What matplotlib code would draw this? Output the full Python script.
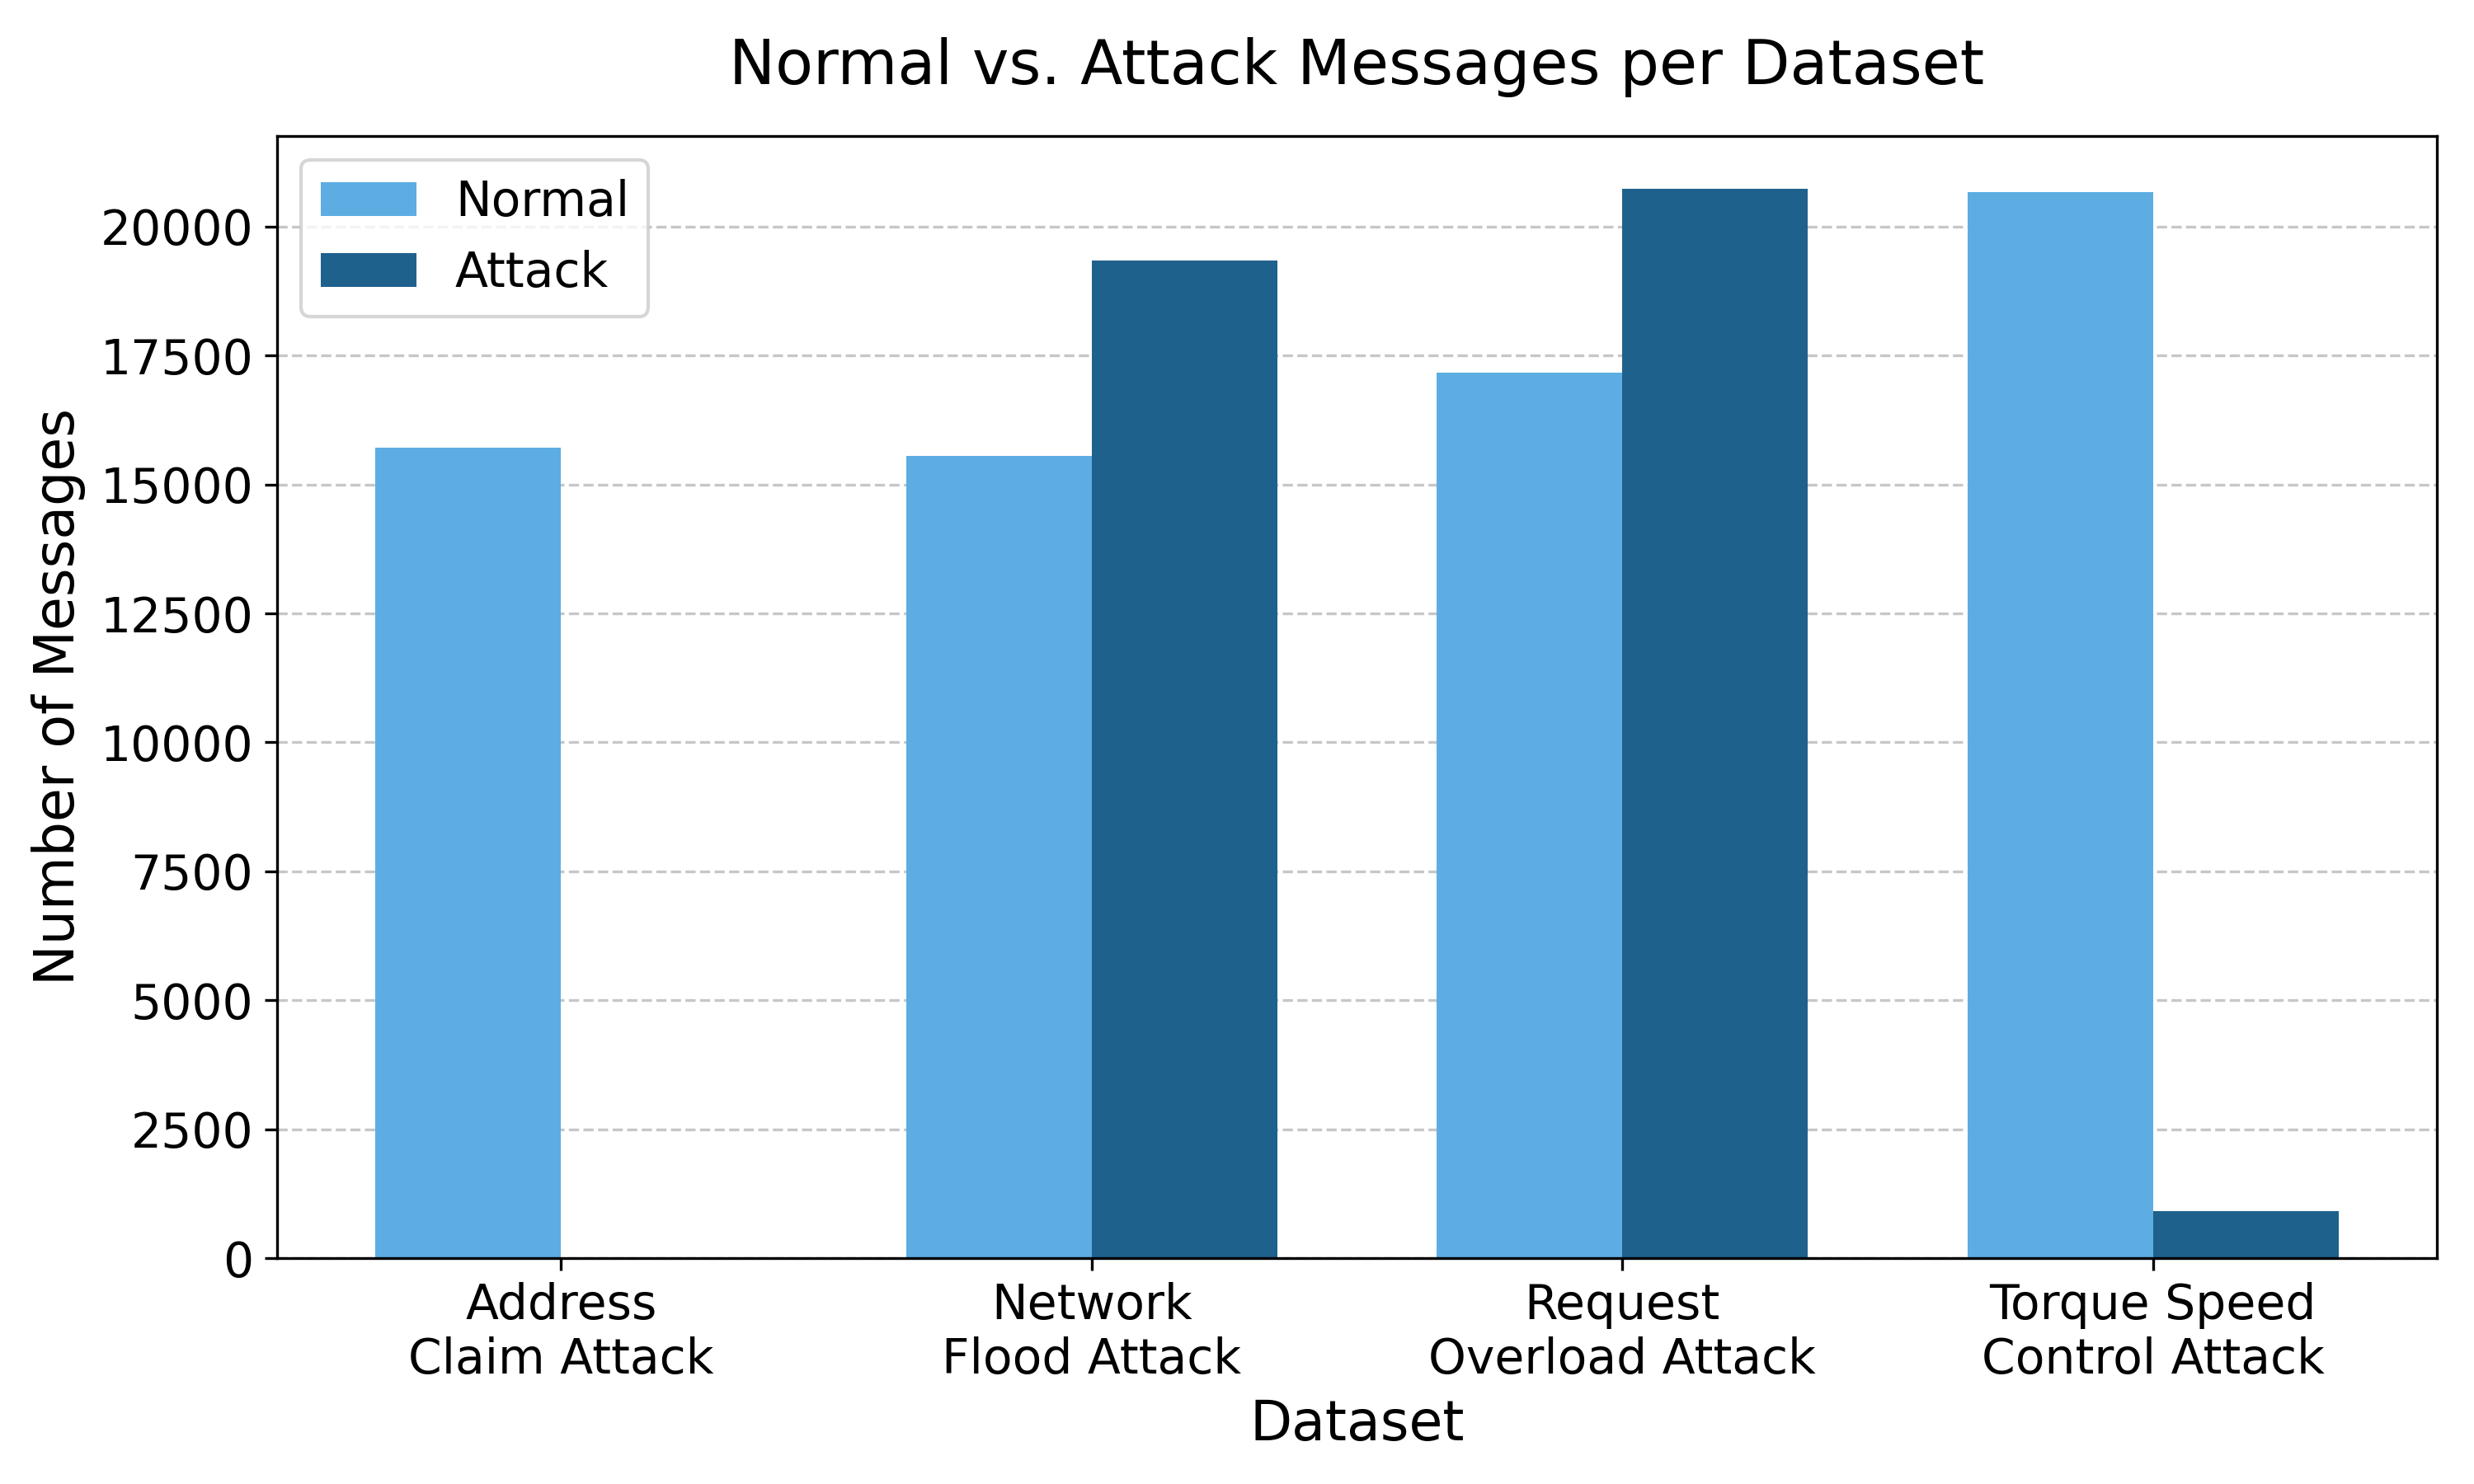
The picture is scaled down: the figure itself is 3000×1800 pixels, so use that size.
import numpy as np
import matplotlib.pyplot as plt

datasets = ['Address\nClaim Attack', 'Network\nFlood Attack', 'Request\nOverload Attack', 'Torque Speed\nControl Attack']
normal_counts = [15720, 15545, 17165, 20660]
attack_counts = [0, 19335, 20725, 910]


def plot_bars():
    x = np.arange(len(datasets))
    width = 0.35

    fig, ax = plt.subplots(figsize=(10, 6))
    ax.bar(x - width / 2, normal_counts, width, label='Normal', color='#5DADE2', zorder=2)
    ax.bar(x + width / 2, attack_counts, width, label='Attack', color='#1F618D', zorder=2)

    ax.set_xticks(x)
    ax.set_xticklabels(datasets, fontsize=14)
    ax.tick_params(axis='y', labelsize=14)
    ax.set_xlabel('Dataset', fontsize=16)
    ax.set_ylabel('Number of Messages', fontsize=16)
    ax.set_title('Normal vs. Attack Messages per Dataset', fontsize=18, pad=15)
    ax.grid(axis='y', linestyle='--', alpha=0.7, zorder=3)
    ax.legend(loc='upper left', fontsize=14)

    plt.tight_layout()
    plt.savefig('out.png', dpi=300)


if __name__ == "__main__":
    plot_bars()
